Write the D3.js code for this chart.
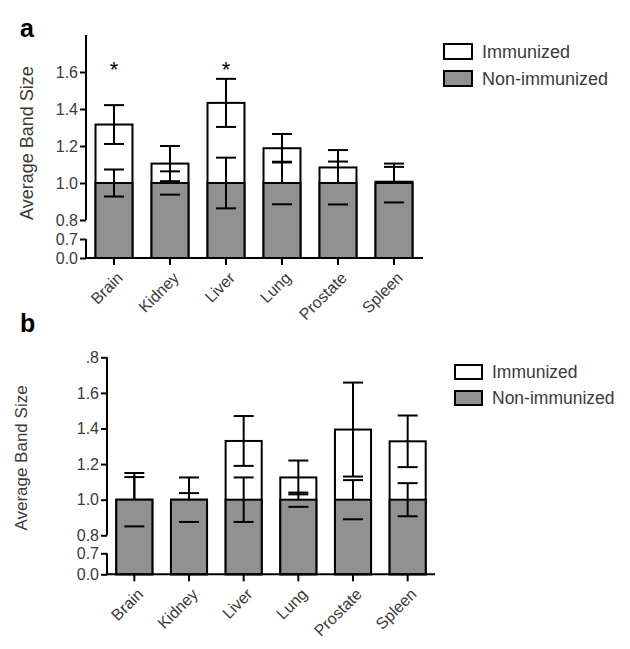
<!DOCTYPE html>
<html>
<head>
<meta charset="utf-8">
<script src="https://cdn.jsdelivr.net/npm/d3@7"></script>
<style>
  html, body { margin: 0; padding: 0; background: #fff; }
  svg { display: block; font-family: "Liberation Sans", Arial, sans-serif; }
</style>
</head>
<body>
<svg id="chart" width="630" height="649"></svg>
<script>
// ---------- data ----------
const categories = ["Brain", "Kidney", "Liver", "Lung", "Prostate", "Spleen"];
const seriesNames = ["Immunized", "Non-immunized"];

// panel a
const aImmunized       = [1.316, 1.105, 1.433, 1.188, 1.084, 1.007];
const aImmunizedErr    = [0.105, 0.095, 0.130, 0.077, 0.094, 0.080];
const aNonImmunized    = [1.0, 1.0, 1.0, 1.0, 1.0, 1.0];
const aNonImmunizedErr = [0.073, 0.063, 0.137, 0.115, 0.116, 0.105];
const aFullWhisker     = [true, false, true, false, false, false];
const aSignificance    = ["*", "", "*", "", "", ""];
const aTickValues      = [0, 0.7, 0.8, 1.0, 1.2, 1.4, 1.6];
const aTickLabels      = ["0.0", "0.7", "0.8", "1.0", "1.2", "1.4", "1.6"];

// panel b
const bImmunized       = [1.0, 1.0, 1.330, 1.125, 1.394, 1.328];
const bImmunizedErr    = [0.127, 0.037, 0.140, 0.095, 0.264, 0.145];
const bNonImmunized    = [1.0, 1.0, 1.0, 1.0, 1.0, 1.0];
const bNonImmunizedErr = [0.150, 0.125, 0.125, 0.040, 0.110, 0.093];
const bFullWhisker     = [false, false, true, false, false, true];
const bSignificance    = ["", "", "", "", "", ""];
const bTickValues      = [0, 0.7, 0.8, 1.0, 1.2, 1.4, 1.6, 1.8];
const bTickLabels      = ["0.0", "0.7", "0.8", "1.0", "1.2", "1.4", "1.6", ".8"];

const yLabel = "Average Band Size";
const GREY = "#919191";
const TEXT = "#3a3a3a";

const svg = d3.select("#chart");

function drawPanel(p) {
  const g = svg.append("g");
  // broken (piecewise) y scale
  const y = d3.scaleLinear()
    .domain([0, 0.7, 0.8, 1.8])
    .range([p.y0, p.y07, p.y08, p.yTop]);
  const x = d3.scaleBand()
    .domain(categories)
    .range([p.xStart, p.xEnd])
    .paddingInner(0.34)
    .paddingOuter(0.17);
  const bw = x.bandwidth();
  const cx = d => x(d) + bw / 2;
  const capW = 10;

  // panel letter
  g.append("text").attr("x", p.letterX).attr("y", p.letterY)
    .attr("font-size", 25).attr("font-weight", "bold").attr("fill", "#000")
    .text(p.letter);

  // y axis ticks + labels
  const yAxis = d3.axisLeft(y).tickValues(p.tickValues)
    .tickFormat((d, i) => p.tickLabels[i]).tickSize(6).tickPadding(2);
  const ya = g.append("g").attr("transform", `translate(${p.xAxis},0)`).call(yAxis);
  ya.select(".domain").remove();
  ya.selectAll(".tick line").attr("stroke", "#000").attr("stroke-width", 2);
  ya.selectAll(".tick text").attr("font-size", p.tickFont).attr("fill", TEXT)
    .attr("font-family", "Liberation Sans, Arial, sans-serif");
  // broken axis segments
  g.append("line").attr("x1", p.xAxis).attr("x2", p.xAxis)
    .attr("y1", y(1.8)).attr("y2", y(0.8)).attr("stroke", "#000").attr("stroke-width", 2);
  g.append("line").attr("x1", p.xAxis).attr("x2", p.xAxis)
    .attr("y1", y(0.7)).attr("y2", y(0) + 1).attr("stroke", "#000").attr("stroke-width", 2);

  // y label
  g.append("text")
    .attr("transform", `translate(${p.yLabelX},${p.yLabelY}) rotate(-90)`)
    .attr("text-anchor", "middle").attr("dy", "0.35em")
    .attr("font-size", p.yLabelFont).attr("fill", TEXT).text(yLabel);

  // immunized bars (behind)
  g.selectAll(".imm").data(categories).join("rect")
    .attr("x", d => x(d)).attr("width", bw)
    .attr("y", (d, i) => y(p.imm[i]))
    .attr("height", (d, i) => y(0) - y(p.imm[i]))
    .attr("fill", "#fff").attr("stroke", "#000").attr("stroke-width", 2);
  // immunized error bars
  categories.forEach((c, i) => {
    const hi = p.imm[i] + p.immErr[i], lo = p.imm[i] - p.immErr[i];
    g.append("line").attr("x1", cx(c)).attr("x2", cx(c)).attr("y1", y(hi)).attr("y2", y(lo))
      .attr("stroke", "#000").attr("stroke-width", 2);
    [hi, lo].forEach(v => g.append("line")
      .attr("x1", cx(c) - capW).attr("x2", cx(c) + capW).attr("y1", y(v)).attr("y2", y(v))
      .attr("stroke", "#000").attr("stroke-width", 2));
  });
  // non-immunized bars (front)
  g.selectAll(".non").data(categories).join("rect")
    .attr("x", d => x(d)).attr("width", bw)
    .attr("y", (d, i) => y(p.non[i]))
    .attr("height", (d, i) => y(0) - y(p.non[i]))
    .attr("fill", GREY).attr("stroke", "#000").attr("stroke-width", 2);
  // non-immunized error bars
  categories.forEach((c, i) => {
    const hi = p.non[i] + p.nonErr[i], lo = p.non[i] - p.nonErr[i];
    g.append("line").attr("x1", cx(c)).attr("x2", cx(c))
      .attr("y1", y(hi)).attr("y2", p.full[i] ? y(lo) : y(p.non[i]))
      .attr("stroke", "#000").attr("stroke-width", 2);
    [hi, lo].forEach(v => g.append("line")
      .attr("x1", cx(c) - capW).attr("x2", cx(c) + capW).attr("y1", y(v)).attr("y2", y(v))
      .attr("stroke", "#000").attr("stroke-width", 2));
  });

  // significance
  g.selectAll(".sig").data(categories).join("text")
    .attr("x", d => cx(d)).attr("y", p.sigY).attr("text-anchor", "middle")
    .attr("font-size", 22).attr("fill", "#000")
    .text((d, i) => p.sig[i]);

  // x axis
  g.append("line").attr("x1", p.xAxis - 1).attr("x2", p.xAxisEnd)
    .attr("y1", y(0)).attr("y2", y(0)).attr("stroke", "#000").attr("stroke-width", 2);
  categories.forEach(c => {
    g.append("line").attr("x1", cx(c)).attr("x2", cx(c)).attr("y1", y(0)).attr("y2", y(0) + 7)
      .attr("stroke", "#000").attr("stroke-width", 2);
    g.append("text")
      .attr("transform", `translate(${cx(c) + 2},${y(0) + 13}) rotate(-45)`)
      .attr("text-anchor", "end").attr("dy", "0.7em")
      .attr("font-size", 16).attr("fill", TEXT).text(c);
  });

  // legend
  const fills = ["#fff", GREY];
  seriesNames.forEach((s, i) => {
    const yy = p.legY + i * p.legStep;
    g.append("rect").attr("x", p.legX).attr("y", yy).attr("width", p.legW).attr("height", p.legH)
      .attr("fill", fills[i]).attr("stroke", "#000").attr("stroke-width", 2);
    g.append("text").attr("x", p.legX + p.legW + 10).attr("y", yy + p.legH / 2)
      .attr("dy", "0.36em").attr("font-size", p.legFont).attr("fill", TEXT).text(s);
  });
}

drawPanel({
  letter: "a", letterX: 20, letterY: 37,
  y0: 258, y07: 239, y08: 220, yTop: 35,
  xAxis: 86, xStart: 86, xEnd: 422, xAxisEnd: 423,
  tickValues: aTickValues, tickLabels: aTickLabels, tickFont: 16,
  yLabelX: 27, yLabelY: 143, yLabelFont: 18,
  imm: aImmunized, immErr: aImmunizedErr, non: aNonImmunized, nonErr: aNonImmunizedErr,
  full: aFullWhisker, sig: aSignificance, sigY: 77,
  legX: 444, legY: 44, legW: 28, legH: 15, legStep: 27, legFont: 18
});

drawPanel({
  letter: "b", letterX: 20, letterY: 332,
  y0: 574.3, y07: 553.3, y08: 535.3, yTop: 357.3,
  xAxis: 107, xStart: 107, xEnd: 435, xAxisEnd: 435,
  tickValues: bTickValues, tickLabels: bTickLabels, tickFont: 16,
  yLabelX: 21, yLabelY: 458, yLabelFont: 17,
  imm: bImmunized, immErr: bImmunizedErr, non: bNonImmunized, nonErr: bNonImmunizedErr,
  full: bFullWhisker, sig: bSignificance, sigY: 340,
  legX: 455, legY: 365, legW: 27, legH: 14, legStep: 26, legFont: 17.5
});
</script>
</body>
</html>
